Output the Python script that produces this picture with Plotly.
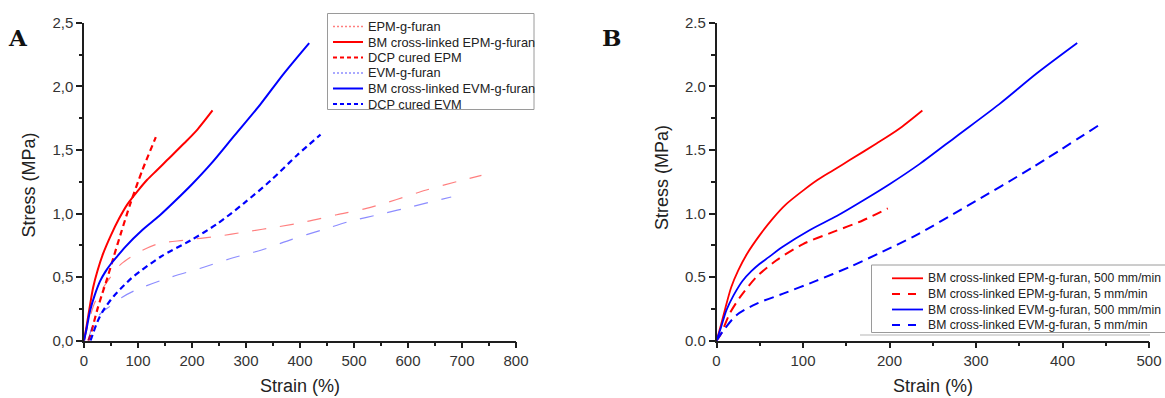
import plotly.graph_objects as go

W, H = 1165, 398

# ---------------- Panel A data ----------------
names_A = ["EPM-g-furan", "BM cross-linked EPM-g-furan", "DCP cured EPM",
           "EVM-g-furan", "BM cross-linked EVM-g-furan", "DCP cured EVM"]

epm_furan_x = [0, 5, 12, 20, 33, 49, 68, 99, 136, 185, 246, 301, 360, 412, 468, 523, 579, 634, 690, 736]
epm_furan_y = [0, 0.08, 0.2, 0.3, 0.4, 0.5, 0.6, 0.69, 0.76, 0.79, 0.82, 0.857, 0.896, 0.936, 0.99, 1.04, 1.11, 1.185, 1.25, 1.30]

bm_epm_x = [0, 5, 10, 17, 25, 35, 50, 65, 80, 100, 117, 135, 154, 185, 210, 238]
bm_epm_y = [0, 0.12, 0.25, 0.42, 0.55, 0.68, 0.83, 0.96, 1.07, 1.18, 1.265, 1.34, 1.42, 1.55, 1.66, 1.81]

dcp_epm_x = [8, 13, 18, 25, 33, 43, 55, 68, 86, 108, 133]
dcp_epm_y = [0, 0.06, 0.14, 0.25, 0.36, 0.49, 0.66, 0.84, 1.08, 1.34, 1.60]

evm_furan_x = [8, 12, 17, 30, 48, 70, 97, 154, 216, 273, 329, 385, 440, 496, 551, 607, 680]
evm_furan_y = [0, 0.07, 0.13, 0.21, 0.27, 0.34, 0.40, 0.49, 0.57, 0.648, 0.713, 0.797, 0.87, 0.943, 0.996, 1.054, 1.13]

bm_evm_x = [0, 5, 11.5, 20, 30, 40, 50, 60, 77, 108, 139, 169, 200, 235, 278, 327, 370, 417]
bm_evm_y = [0, 0.1, 0.24, 0.36, 0.47, 0.545, 0.605, 0.655, 0.74, 0.87, 0.98, 1.10, 1.23, 1.39, 1.61, 1.86, 2.10, 2.34]

dcp_evm_x = [12, 17, 25, 36, 55, 80, 93, 142, 198, 247, 296, 346, 395, 438]
dcp_evm_y = [0, 0.06, 0.15, 0.24, 0.35, 0.46, 0.51, 0.66, 0.79, 0.92, 1.08, 1.26, 1.46, 1.62]

# ---------------- Panel B data ----------------
names_B = ["BM cross-linked EPM-g-furan, 500 mm/min", "BM cross-linked EPM-g-furan, 5 mm/min",
           "BM cross-linked EVM-g-furan, 500 mm/min", "BM cross-linked EVM-g-furan, 5 mm/min"]

epm5_x = [0, 5, 15, 27, 46, 69, 100, 135, 169, 198]
epm5_y = [0, 0.05, 0.21, 0.34, 0.50, 0.63, 0.76, 0.855, 0.945, 1.04]

evm5_x = [0, 8, 23, 46, 77, 115, 154, 192, 231, 290, 366, 441]
evm5_y = [0, 0.08, 0.2, 0.29, 0.37, 0.47, 0.58, 0.70, 0.83, 1.06, 1.365, 1.69]

# tick labels
yticks = [0, 0.5, 1.0, 1.5, 2.0, 2.5]
ytext_A = ["0,0", "0,5", "1,0", "1,5", "2,0", "2,5"]
ytext_B = ["0.0", "0.5", "1.0", "1.5", "2.0", "2.5"]
xticks_A = [0, 100, 200, 300, 400, 500, 600, 700, 800]
xticks_B = [0, 100, 200, 300, 400, 500]

RED = "#ff0000"
BLUE = "#0000ff"
RED_L = "rgba(255,0,0,0.5)"
BLUE_L = "rgba(0,0,255,0.45)"

styles_A = [
    dict(color=RED_L, width=1.2, dash="14px,14px"),
    dict(color=RED, width=2, dash="solid"),
    dict(color=RED, width=2.2, dash="6px,4px"),
    dict(color=BLUE_L, width=1.2, dash="14px,14px"),
    dict(color=BLUE, width=2, dash="solid"),
    dict(color=BLUE, width=2.2, dash="6px,4px"),
]
legend_dash_A = ["2px,2px", "solid", "4px,3px", "2px,2px", "solid", "4px,3px"]
styles_B = [
    dict(color=RED, width=1.8, dash="solid"),
    dict(color=RED, width=2, dash="10px,6px"),
    dict(color=BLUE, width=1.8, dash="solid"),
    dict(color=BLUE, width=2, dash="10px,6px"),
]

fig = go.Figure()

series_A = [(epm_furan_x, epm_furan_y), (bm_epm_x, bm_epm_y), (dcp_epm_x, dcp_epm_y),
            (evm_furan_x, evm_furan_y), (bm_evm_x, bm_evm_y), (dcp_evm_x, dcp_evm_y)]
for (xs, ys), nm, st in zip(series_A, names_A, styles_A):
    fig.add_trace(go.Scatter(x=xs, y=ys, name=nm, mode="lines", line=dict(shape="spline", smoothing=0.8, **st),
                             xaxis="x", yaxis="y", showlegend=False))

series_B = [(bm_epm_x, bm_epm_y), (epm5_x, epm5_y), (bm_evm_x, bm_evm_y), (evm5_x, evm5_y)]
for (xs, ys), nm, st in zip(series_B, names_B, styles_B):
    fig.add_trace(go.Scatter(x=xs, y=ys, name=nm, mode="lines", line=dict(shape="spline", smoothing=0.8, **st),
                             xaxis="x2", yaxis="y2", showlegend=False))

AX_COL = "#1e1e1e"
FONT = "Liberation Sans, Arial, sans-serif"


def axis(domain, rng, tickvals, ticktext, minor_dtick, anchor):
    return dict(domain=domain, range=rng, tickvals=tickvals, ticktext=ticktext,
                showline=True, linecolor=AX_COL, linewidth=1.5, ticks="outside", ticklen=6,
                tickwidth=1.5, tickcolor=AX_COL, showgrid=False, zeroline=False, anchor=anchor,
                tickfont=dict(family=FONT, size=15, color="#333"),
                minor=dict(ticks="outside", ticklen=3.5, tickwidth=1.5, tickcolor=AX_COL,
                           dtick=minor_dtick, tick0=0, showgrid=False))


ydom = [1 - 340.7 / H, 1 - 22.7 / H]
fig.update_layout(
    width=W, height=H, margin=dict(l=0, r=0, t=0, b=0, autoexpand=False),
    plot_bgcolor="white", paper_bgcolor="white", showlegend=False,
    xaxis=axis([84 / W, 516 / W], [0, 800], xticks_A, [str(v) for v in xticks_A], 50, "y"),
    yaxis=axis(ydom, [0, 2.5], yticks, ytext_A, 0.25, "x"),
    xaxis2=axis([716.5 / W, 1149 / W], [0, 500], xticks_B, [str(v) for v in xticks_B], 50, "y2"),
    yaxis2=axis(ydom, [0, 2.5], yticks, ytext_B, 0.25, "x2"),
)


def px(x):
    return x / W


def py(y):
    return 1 - y / H


ann = []
shapes = []
# axis titles
for cx in (300, 933):
    ann.append(dict(text="Strain (%)", x=px(cx), y=py(386), xref="paper", yref="paper",
                    showarrow=False, font=dict(family=FONT, size=18, color="#222"),
                    xanchor="center", yanchor="middle"))
for cx, cy in ((28.5, 185), (661.5, 177.5)):
    ann.append(dict(text="Stress (MPa)", x=px(cx), y=py(cy), xref="paper", yref="paper",
                    showarrow=False, textangle=-90, font=dict(family=FONT, size=18, color="#222"),
                    xanchor="center", yanchor="middle"))
# panel labels
for lab, cx in (("A", 17.5), ("B", 611)):
    ann.append(dict(text="<b>%s</b>" % lab, x=px(cx), y=py(37), xref="paper", yref="paper",
                    showarrow=False, font=dict(family="DejaVu Serif, Liberation Serif, serif", size=23, color="#111"),
                    xanchor="center", yanchor="middle"))

# legend A (drawn)
shapes.append(dict(type="rect", xref="paper", yref="paper", x0=px(327.5), x1=px(534), y0=py(13.5), y1=py(109.5),
                   line=dict(color="#9a9a9a", width=1), fillcolor="white", layer="above"))
rows_A = [26.5, 42, 57.5, 73, 88.5, 104]
for nm, st, ld, ry in zip(names_A, styles_A, legend_dash_A, rows_A):
    shapes.append(dict(type="line", xref="paper", yref="paper", x0=px(333), x1=px(363), y0=py(ry), y1=py(ry),
                       line=dict(color=st["color"], width=max(st["width"], 1.5), dash=ld)))
    ann.append(dict(text=nm, x=px(366), y=py(ry), xref="paper", yref="paper", showarrow=False,
                    xanchor="left", yanchor="middle", font=dict(family=FONT, size=12.8, color="#222")))

# legend B (drawn)
shapes.append(dict(type="rect", xref="paper", yref="paper", x0=px(871.5), x1=px(1185), y0=py(265), y1=py(332.5),
                   line=dict(color="#9a9a9a", width=1), fillcolor="white", layer="above"))
shapes.append(dict(type="line", xref="paper", yref="paper", x0=px(860), x1=px(1150), y0=py(335), y1=py(335),
                   line=dict(color="#b5b5b5", width=1)))
rows_B = [278.3, 294, 309.5, 325]
legend_dash_B = ["solid", "8px,8px", "solid", "8px,8px"]
for nm, st, ld, ry in zip(names_B, styles_B, legend_dash_B, rows_B):
    shapes.append(dict(type="line", xref="paper", yref="paper", x0=px(892), x1=px(923), y0=py(ry), y1=py(ry),
                       line=dict(color=st["color"], width=1.8, dash=ld)))
    ann.append(dict(text=nm, x=px(925.5), y=py(ry), xref="paper", yref="paper", showarrow=False,
                    xanchor="left", yanchor="middle", font=dict(family=FONT, size=12.2, color="#222")))

fig.update_layout(annotations=ann, shapes=shapes)
fig.write_html("out.html", config={"displayModeBar": False},
               post_script="document.body.style.margin='0';document.body.style.padding='0';"
                           "document.body.style.overflow='hidden';")
